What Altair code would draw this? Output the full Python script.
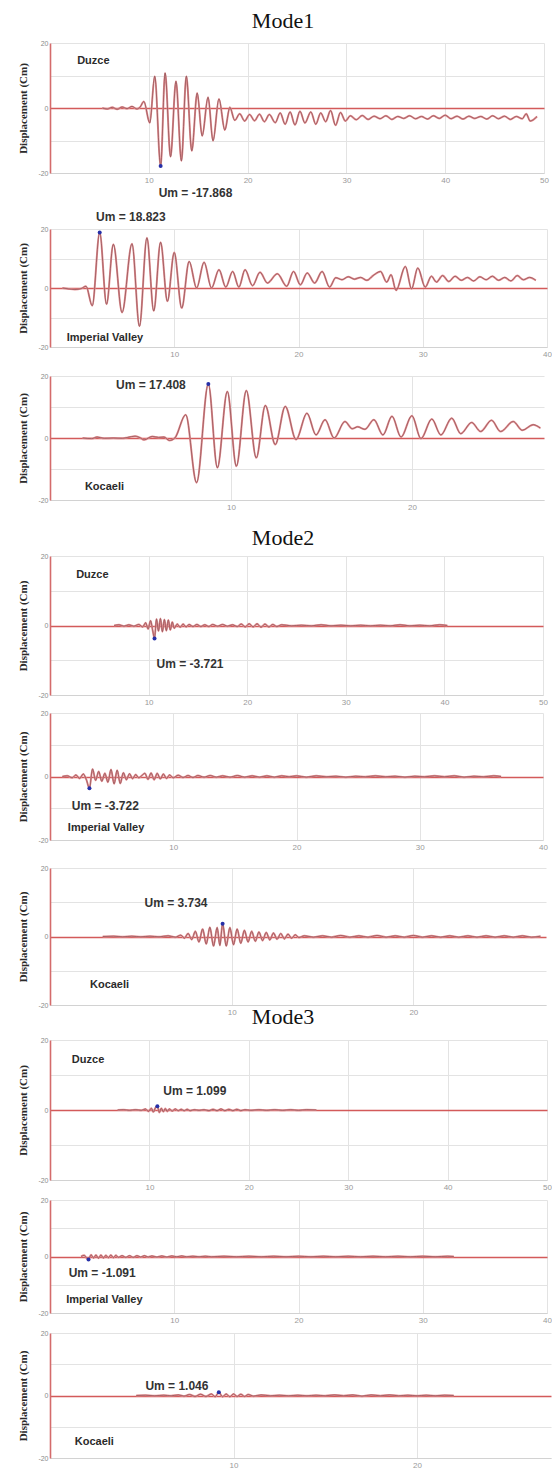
import altair as alt
import pandas as pd

# ---------------- data (time s, displacement cm) ----------------
DUZCE_M1 = [(5.3, 0.0), (5.8, -0.3), (6.3, 0.2), (6.8, -0.4), (7.3, 0.3), (7.8, -0.2), (8.3, 0.5), (8.8, -0.3),
            (9.1, 0.2), (9.5, 2.0), (10.1, -4.6), (10.6, 9.8), (11.2, -17.868), (11.65, 10.8), (12.2, -15.0),
            (12.75, 8.2), (13.3, -16.3), (13.8, 9.8), (14.35, -13.2), (14.9, 4.6), (15.4, -8.6), (16.0, 3.3),
            (16.5, -10.1), (17.1, 2.8), (17.7, -6.8), (18.2, 0.2), (18.7, -3.8), (19.2, -1.8), (19.7, -4.0),
            (20.2, -2.0), (20.7, -3.9), (21.2, -1.9), (21.7, -4.2), (22.2, -2.0), (22.8, -4.5), (23.3, -1.5),
            (23.8, -5.0), (24.3, -1.2), (24.8, -5.2), (25.3, -1.0), (25.8, -4.6), (26.4, -1.2), (26.9, -5.0),
            (27.4, -1.5), (27.9, -4.2), (28.4, -0.8), (28.9, -5.3), (29.4, -1.4), (29.9, -4.0), (30.4, -2.4),
            (31.0, -3.6), (31.6, -2.3), (32.2, -3.5), (32.8, -2.5), (33.4, -3.3), (34.0, -2.4), (34.6, -3.5),
            (35.2, -2.6), (35.8, -3.2), (36.4, -2.4), (37.0, -3.3), (37.6, -2.6), (38.2, -3.4), (38.8, -2.4),
            (39.4, -3.2), (40.0, -2.2), (40.6, -3.3), (41.2, -2.5), (41.8, -3.4), (42.4, -2.5), (43.0, -3.2),
            (43.6, -2.6), (44.2, -3.4), (44.8, -2.4), (45.4, -3.3), (46.0, -2.5), (46.6, -3.5), (47.2, -2.6),
            (47.8, -3.3), (48.2, -1.8), (48.6, -4.0), (49.3, -2.6)]

IMPERIAL_M1 = [(1.0, 0.0), (1.5, -0.3), (2.0, -0.5), (2.5, -0.2), (2.9, 0.6), (3.4, -6.0), (4.0, 18.823),
               (4.55, -5.5), (5.1, 14.8), (5.8, -8.3), (6.6, 15.0), (7.2, -13.0), (7.8, 17.0), (8.35, -7.8),
               (8.9, 15.5), (9.45, -4.5), (10.0, 12.0), (10.6, -6.8), (11.2, 9.0), (11.8, 0.0), (12.4, 8.7),
               (13.0, 0.0), (13.6, 6.2), (14.15, 0.3), (14.7, 5.6), (15.2, 0.3), (15.7, 6.2), (16.3, 0.8),
               (16.9, 5.3), (17.5, 1.7), (18.3, 4.8), (19.05, 0.6), (19.6, 5.6), (20.15, 1.1), (20.7, 5.1),
               (21.3, 1.7), (21.9, 5.6), (22.5, 0.3), (23.0, 3.5), (23.5, 2.8), (24.0, 3.8), (24.5, 3.0),
               (25.0, 3.6), (25.5, 2.6), (26.0, 4.2), (26.6, 5.6), (27.1, 2.0), (27.45, 4.5), (27.85, -0.8),
               (28.6, 7.3), (29.1, -0.3), (29.6, 6.8), (30.2, 0.3), (30.7, 4.0), (31.1, 2.0), (31.6, 4.2),
               (32.1, 2.2), (32.6, 4.0), (33.1, 2.6), (33.6, 3.6), (34.1, 2.4), (34.6, 3.8), (35.1, 2.8),
               (35.6, 4.0), (36.1, 2.6), (36.6, 3.6), (37.1, 2.4), (37.6, 4.2), (38.1, 2.8), (38.6, 3.6),
               (39.1, 2.6)]

KOCAELI_M1 = [(1.8, 0.0), (2.3, -0.2), (2.6, 0.3), (3.0, -0.1), (3.5, 0.0), (4.0, -0.1), (4.3, 0.2), (4.7, 0.6),
              (5.0, 0.0), (5.2, -0.6), (5.65, 0.5), (6.0, 0.2), (6.3, 0.3), (6.6, -0.8), (6.9, 0.0), (7.5, 7.5),
              (8.1, -14.4), (8.75, 17.408), (9.25, -9.6), (9.8, 15.0), (10.3, -9.1), (10.85, 15.3),
              (11.4, -6.4), (11.9, 10.5), (12.45, -2.1), (13.0, 10.2), (13.6, -0.5), (14.2, 8.0), (14.7, 1.0),
              (15.2, 5.9), (15.7, 0.0), (16.3, 5.3), (16.7, 3.0), (17.0, 3.6), (17.4, 2.8), (17.9, 5.9),
              (18.4, 1.0), (18.9, 7.0), (19.4, 0.3), (20.0, 7.2), (20.5, -0.2), (21.1, 6.1), (21.6, 1.0),
              (22.2, 6.4), (22.7, 1.4), (23.3, 5.0), (23.8, 2.1), (24.4, 5.7), (24.9, 2.1), (25.6, 5.3),
              (26.1, 2.5), (26.7, 4.3), (27.1, 3.2)]

DUZCE_M2 = [(6.5, 0.0), (7.0, 0.2), (7.5, -0.2), (8.0, 0.2), (8.5, -0.2), (9.0, 0.3), (9.4, -0.4), (9.7, 0.8),
            (9.95, -1.0), (10.2, 1.4), (10.4, -1.2), (10.6, -3.721), (10.8, 1.9), (11.0, -1.6), (11.2, 2.0),
            (11.4, -1.8), (11.6, 1.7), (11.8, -1.5), (12.0, 1.6), (12.2, -1.3), (12.4, 1.0), (12.6, -0.8),
            (12.9, 0.4), (13.2, -0.5), (13.5, 0.4), (13.8, -0.4), (14.1, 0.3), (14.5, -0.3), (14.9, 0.3),
            (15.3, -0.3), (15.7, 0.2), (16.1, -0.3), (16.5, 0.3), (17.0, -0.2), (17.5, 0.3), (18.0, -0.2),
            (18.5, 0.2), (19.0, -0.3), (19.4, 0.4), (19.8, -0.4), (20.2, 0.5), (20.6, -0.4), (21.0, 0.5),
            (21.4, -0.5), (21.8, 0.4), (22.2, -0.4), (22.6, 0.3), (23.0, -0.3), (23.5, 0.2), (24.5, -0.1),
            (25.5, 0.1), (26.5, -0.1), (27.5, 0.2), (28.5, -0.1), (29.5, 0.1), (30.5, -0.1), (31.5, 0.1),
            (32.5, -0.1), (33.5, 0.1), (34.5, -0.1), (35.5, 0.2), (36.5, -0.1), (37.5, 0.1), (38.5, -0.1),
            (39.5, 0.2), (40.3, 0.0)]

IMPERIAL_M2 = [(1.0, 0.0), (1.4, 0.2), (1.8, -0.4), (2.1, 0.5), (2.4, -0.6), (2.7, 0.8), (2.95, -1.0),
               (3.2, -3.722), (3.45, 2.4), (3.7, -1.2), (3.95, 1.6), (4.2, -1.5), (4.45, 1.0), (4.7, -1.8),
               (4.95, 2.2), (5.2, -2.3), (5.45, 2.0), (5.7, -2.2), (5.95, 1.2), (6.2, -1.0), (6.45, 0.9),
               (6.7, -0.7), (6.95, 0.6), (7.2, -0.4), (7.45, 0.3), (7.7, 1.0), (7.95, -0.9), (8.2, 1.1),
               (8.45, -1.0), (8.7, 1.0), (8.95, -0.8), (9.2, 0.8), (9.45, -0.6), (9.7, 0.5), (10.0, -0.4),
               (10.4, 0.4), (10.8, -0.3), (11.2, 0.3), (11.6, -0.3), (12.0, 0.3), (12.5, -0.2), (13.0, 0.3),
               (13.5, -0.2), (14.0, 0.2), (14.6, -0.2), (15.2, 0.3), (15.8, -0.2), (16.4, 0.2), (17.0, -0.2),
               (17.6, 0.2), (18.2, -0.2), (18.8, 0.2), (19.4, -0.1), (20.0, 0.2), (20.8, -0.2), (21.6, 0.2),
               (22.4, -0.1), (23.2, 0.1), (24.0, -0.2), (24.8, 0.1), (25.6, -0.1), (26.4, 0.2), (27.2, -0.1),
               (28.0, 0.1), (28.8, -0.2), (29.6, 0.1), (30.4, -0.1), (31.2, 0.2), (32.0, -0.1), (32.8, 0.2),
               (33.6, -0.2), (34.4, 0.1), (35.2, -0.1), (36.0, 0.2), (36.6, 0.0)]

KOCAELI_M2 = [(2.9, 0.0), (3.5, 0.1), (4.0, -0.1), (4.5, 0.1), (5.0, -0.1), (5.5, 0.1), (6.0, -0.1), (6.5, 0.2),
              (6.9, -0.2), (7.2, 0.4), (7.4, -0.5), (7.6, 0.9), (7.8, -0.9), (8.0, 1.5), (8.2, -1.6), (8.4, 2.2),
              (8.6, -2.2), (8.8, 2.7), (9.0, -2.8), (9.2, 2.6), (9.35, -2.6), (9.5, 3.734), (9.7, -2.8),
              (9.9, 2.6), (10.1, -2.4), (10.3, 2.2), (10.5, -2.0), (10.7, 1.8), (10.9, -1.6), (11.1, 1.5),
              (11.3, -1.4), (11.5, 1.3), (11.7, -1.2), (11.9, 1.2), (12.1, -1.0), (12.3, 1.0), (12.5, -0.8),
              (12.7, 0.9), (12.9, -0.7), (13.1, 0.7), (13.3, -0.5), (13.5, 0.5), (13.7, -0.3), (14.0, 0.2),
              (14.5, -0.2), (15.0, 0.2), (15.5, -0.2), (16.0, 0.3), (16.5, -0.2), (17.0, 0.2), (17.5, -0.2),
              (18.0, 0.3), (18.5, -0.2), (19.0, 0.2), (19.5, -0.2), (20.0, 0.3), (20.5, -0.2), (21.0, 0.2),
              (21.5, -0.2), (22.0, 0.2), (22.5, -0.2), (23.0, 0.2), (23.5, -0.2), (24.0, 0.2), (24.5, -0.2),
              (25.0, 0.2), (25.5, -0.2), (26.0, 0.2), (26.5, -0.2), (27.0, 0.1)]

DUZCE_M3 = [(6.8, 0.0), (7.4, 0.1), (8.0, -0.1), (8.6, 0.1), (9.2, -0.1), (9.6, 0.3), (9.9, -0.4), (10.2, 0.5),
            (10.4, -0.6), (10.6, 0.6), (10.8, 1.099), (11.0, -0.7), (11.2, 0.5), (11.4, -0.5), (11.6, 0.4),
            (11.8, -0.4), (12.0, 0.3), (12.3, -0.3), (12.6, 0.3), (12.9, -0.2), (13.2, 0.2), (13.5, -0.2),
            (13.8, 0.2), (14.1, -0.2), (14.5, 0.1), (15.0, -0.1), (15.5, 0.1), (16.0, -0.2), (16.4, 0.2),
            (16.8, -0.2), (17.2, 0.3), (17.6, -0.2), (18.0, 0.2), (18.4, -0.2), (18.8, 0.2), (19.2, -0.2),
            (19.6, 0.1), (20.2, -0.1), (21.0, 0.1), (21.8, -0.1), (22.6, 0.1), (23.4, -0.1), (24.2, 0.1),
            (25.0, -0.1), (25.8, 0.1), (26.8, 0.0)]

IMPERIAL_M3 = [(2.5, 0.0), (2.75, 0.4), (2.95, -0.6), (3.1, -1.091), (3.3, 0.6), (3.5, -0.5), (3.7, 0.5),
               (3.9, -0.6), (4.1, 0.5), (4.3, -0.5), (4.5, 0.4), (4.7, -0.4), (4.9, 0.5), (5.1, -0.4), (5.3, 0.4),
               (5.5, -0.3), (5.8, 0.3), (6.1, -0.3), (6.4, 0.3), (6.7, -0.3), (7.0, 0.3), (7.3, -0.2), (7.6, 0.3),
               (7.9, -0.2), (8.2, 0.2), (8.6, -0.2), (9.0, 0.2), (9.4, -0.2), (9.8, 0.2), (10.2, -0.1),
               (10.6, 0.2), (11.0, -0.1), (11.5, 0.1), (12.0, -0.1), (12.5, 0.1), (13.0, -0.1), (14.0, 0.1),
               (15.0, -0.1), (16.0, 0.1), (17.0, -0.1), (18.0, 0.1), (19.0, -0.1), (20.0, 0.1), (21.0, -0.1),
               (22.0, 0.1), (23.0, -0.1), (24.0, 0.1), (25.0, -0.1), (26.0, 0.1), (27.0, -0.1), (28.0, 0.1),
               (29.0, -0.1), (30.0, 0.1), (31.0, -0.1), (32.0, 0.1), (32.5, 0.0)]

KOCAELI_M3 = [(4.7, 0.0), (5.2, 0.1), (5.7, -0.1), (6.2, 0.1), (6.6, -0.1), (7.0, 0.2), (7.3, -0.2), (7.6, 0.3),
              (7.9, -0.3), (8.2, 0.4), (8.5, -0.3), (8.8, 0.5), (9.0, -0.4), (9.2, 1.046), (9.4, -0.4),
              (9.6, 0.5), (9.8, -0.4), (10.0, 0.5), (10.2, -0.3), (10.4, 0.4), (10.6, -0.3), (10.8, 0.3),
              (11.1, -0.2), (11.5, 0.2), (12.0, -0.1), (12.5, 0.1), (13.0, -0.1), (13.5, 0.1), (14.0, -0.1),
              (14.5, 0.1), (15.0, -0.1), (15.5, 0.2), (16.0, -0.1), (16.5, 0.2), (17.0, -0.2), (17.5, 0.2),
              (18.0, -0.1), (18.5, 0.2), (19.0, -0.1), (19.5, 0.1), (20.0, -0.1), (20.5, 0.1), (21.0, -0.1),
              (21.5, 0.1), (22.0, 0.0)]

SERIES = [DUZCE_M1, IMPERIAL_M1, KOCAELI_M1,
          DUZCE_M2, IMPERIAL_M2, KOCAELI_M2,
          DUZCE_M3, IMPERIAL_M3, KOCAELI_M3]
RECORDS = ["Duzce", "Imperial Valley", "Kocaeli"] * 3
MODE_TITLES = ["Mode1", "Mode2", "Mode3"]
UM_TIMES = [11.2, 4.0, 8.75, 10.6, 3.2, 9.5, 10.8, 3.1, 9.2]
UM_VALUES = [-17.868, 18.823, 17.408, -3.721, -3.722, 3.734, 1.099, -1.091, 1.046]
X_MAX = {"Duzce": 50, "Imperial Valley": 40, "Kocaeli": 27.3}
X_TICKS = {"Duzce": [10, 20, 30, 40, 50], "Imperial Valley": [10, 20, 30, 40], "Kocaeli": [10, 20]}
Y_TICKS = [-20, -10, 0, 10, 20]
Y_TITLE = "Displacement (Cm)"

# ---------------- layout / style ----------------
WIDTHS = [494, 497, 494, 493, 493, 496, 497, 497, 501]
HEIGHTS = [130, 118, 124, 139, 127, 137, 140, 113, 125]
GAPS = [43, 56, 29, 56, 18, 28, 35, 20, 20]            # space above each panel
TITLE_BASELINE = {0: 28, 3: 45, 6: 19}                 # mode title baseline inside the gap
TITLE_X = 233
NAME_POS = [(2.75, 14.6), (1.35, -17.0), (1.93, -15.8), (2.65, 14.5), (1.45, -16.2),
            (2.2, -14.2), (2.2, 14.3), (1.3, -15.5), (1.35, -15.0)]
UM_POS = [(11.0, -26.0), (3.7, 24.1), (3.65, 17.1), (10.8, -11.0), (1.77, -9.4),
          (5.2, 9.7), (11.4, 5.4), (1.5, -6.0), (5.2, 3.1)]
SANS = "Liberation Sans"
SERIF = "Liberation Serif"


def um_label(v):
    return "Um = " + (" " if v > 0 else "") + f"{v:.3f}"


def panel(i):
    rec = RECORDS[i]
    df = pd.DataFrame(SERIES[i], columns=["t", "u"])
    xs = alt.Scale(domain=[0, X_MAX[rec]], nice=False, zero=False)
    ys = alt.Scale(domain=[-20, 20], nice=False)
    xaxis = alt.Axis(values=X_TICKS[rec], title=None, ticks=False, labelFont=SANS, labelFontSize=8,
                     labelColor="#9a9a9a", labelPadding=3, labelFlush=False, domainColor="#d2d2d2",
                     gridColor="#e3e3e3", gridWidth=1)
    yaxis = alt.Axis(values=Y_TICKS, title=Y_TITLE, titleFont=SERIF, titleFontSize=11, titleFontWeight="bold",
                     titleColor="#2a2a2a", titleX=-22,
                     labelExpr="abs(datum.value) % 20 == 0 ? '' + datum.value : ''",
                     labelFont=SANS, labelFontSize=7, labelColor="#8a8a8a", labelPadding=2, ticks=False,
                     domainColor="#d46b6b", domainWidth=1.6,
                     gridColor=alt.condition("datum.value == 0", alt.value("#d35a5a"), alt.value("#e3e3e3")),
                     gridWidth=alt.condition("datum.value == 0", alt.value(1.4), alt.value(1)))
    X = alt.X("t:Q", scale=xs, axis=xaxis)
    Y = alt.Y("u:Q", scale=ys, axis=yaxis)

    base = alt.Chart(df).encode(x=X, y=Y)
    glow = base.mark_line(color="#e58f92", strokeWidth=2.0, interpolate="monotone")
    core = base.mark_line(color="#8c5357", strokeWidth=0.75, interpolate="monotone")

    peak_df = pd.DataFrame({"t": [UM_TIMES[i]], "u": [UM_VALUES[i]]})
    peak = alt.Chart(peak_df).mark_point(filled=True, size=16, color="#2630a8", opacity=1).encode(x=X, y=Y)

    name_df = pd.DataFrame({"t": [NAME_POS[i][0]], "u": [NAME_POS[i][1]], "label": [rec]})
    name = alt.Chart(name_df).mark_text(font=SANS, fontSize=11, fontWeight="bold", color="#2b2b2b",
                                        align="left", baseline="middle").encode(x=X, y=Y, text="label:N")
    um_df = pd.DataFrame({"t": [UM_POS[i][0]], "u": [UM_POS[i][1]], "label": [um_label(UM_VALUES[i])]})
    um = alt.Chart(um_df).mark_text(font=SANS, fontSize=12, fontWeight="bold", color="#333333",
                                    align="left", baseline="middle").encode(x=X, y=Y, text="label:N")
    return alt.layer(glow, core, peak, name, um).properties(width=WIDTHS[i], height=HEIGHTS[i])


def spacer(i):
    title = MODE_TITLES[i // 3] if i in TITLE_BASELINE else ""
    df = pd.DataFrame({"label": [title]})
    return alt.Chart(df).mark_text(font=SERIF, fontSize=22, color="#111111", align="center",
                                   baseline="alphabetic").encode(
        text="label:N", x=alt.value(TITLE_X), y=alt.value(TITLE_BASELINE.get(i, 0))
    ).properties(width=494, height=GAPS[i])


items = []
for i in range(9):
    items.append(spacer(i))
    items.append(panel(i))

chart = alt.vconcat(*items, spacing=0, bounds="flush").resolve_scale(
    x="independent", y="independent"
).properties(
    padding={"left": 16, "top": 0, "right": 0, "bottom": 0}
).configure_view(stroke=None)

chart.save("out.html", embed_options={"renderer": "svg", "actions": False})
